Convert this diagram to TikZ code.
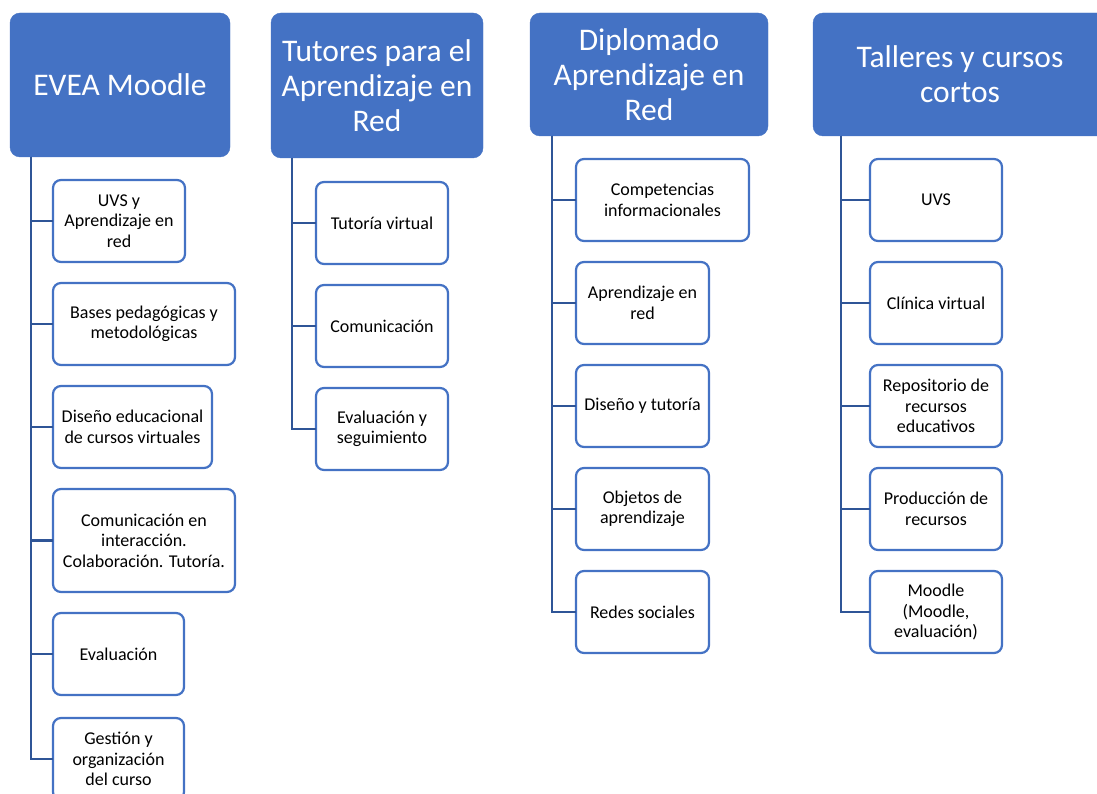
\documentclass[tikz,border=0pt]{standalone}
\usepackage{fontspec}
\setmainfont{Carlito}
\usepackage{tikz}
\usetikzlibrary{positioning}
\definecolor{headblue}{HTML}{4472C4}
\definecolor{linkblue}{HTML}{2F5597}

\tikzset{
  head/.style={anchor=north west, fill=headblue, draw=headblue, rounded corners=10pt,
    inner sep=0pt, outer sep=0pt, align=center, text=white, font=\fontsize{31.5}{35}\selectfont},
  item/.style={draw=headblue, line width=2.2pt, fill=white, rounded corners=8pt,
    inner sep=0pt, outer sep=0pt, minimum width=132pt, minimum height=82pt, align=center,
    text=black, font=\fontsize{18}{20.5}\selectfont},
  link/.style={linkblue, line width=2.6pt}
}

\begin{document}
\begin{tikzpicture}[x=1pt, y=-1pt]
\useasboundingbox (0,0) rectangle (1097,794);
% Headers
\node[head, minimum width=220pt, minimum height=144pt] (hA) at (10,13) {EVEA Moodle};
\node[head, minimum width=212pt, minimum height=145pt] (hB) at (271,13) {Tutores para el\\Aprendizaje en\\Red};
\node[head, minimum width=238pt, minimum height=123pt] (hC) at (530,13) {Diplomado\\Aprendizaje en\\Red};
\node[head, minimum width=294pt, minimum height=123pt] (hD) at (813,13) {Talleres y cursos\\cortos};

% EVEA Moodle
\node[item, anchor=north west] (cA1) at (53,180) {UVS y\\Aprendizaje en\\red};
\node[item, minimum width=182pt, below right=21pt and 0pt of cA1.south west] (cA2) {Bases pedagógicas y\\metodológicas};
\node[item, minimum width=159pt, below right=21pt and 0pt of cA2.south west] (cA3) {Diseño educacional\\de cursos virtuales};
\node[item, minimum width=182pt, minimum height=103pt, below right=21pt and 0pt of cA3.south west] (cA4) {Comunicación en\\interacción.\\Colaboración. Tutoría.};
\node[item, minimum width=131pt, below right=21pt and 0pt of cA4.south west] (cA5) {Evaluación};
\node[item, minimum width=131pt, below right=23pt and 0pt of cA5.south west] (cA6) {Gestión y\\organización\\del curso};

% Tutores
\node[item, anchor=north west] (cB1) at (316,182) {Tutoría virtual};
\node[item, below right=21pt and 0pt of cB1.south west] (cB2) {Comunicación};
\node[item, below right=21pt and 0pt of cB2.south west] (cB3) {Evaluación y\\seguimiento};

% Diplomado
\node[item, minimum width=173pt, anchor=north west] (cC1) at (576,159) {Competencias\\informacionales};
\node[item, minimum width=133pt, below right=21pt and 0pt of cC1.south west] (cC2) {Aprendizaje en\\red};
\node[item, minimum width=133pt, below right=21pt and 0pt of cC2.south west] (cC3) {Diseño y tutoría};
\node[item, minimum width=133pt, below right=21pt and 0pt of cC3.south west] (cC4) {Objetos de\\aprendizaje};
\node[item, minimum width=133pt, below right=21pt and 0pt of cC4.south west] (cC5) {Redes sociales};

% Talleres
\node[item, anchor=north west] (cD1) at (870,159) {UVS};
\node[item, below right=21pt and 0pt of cD1.south west] (cD2) {Clínica virtual};
\node[item, below right=21pt and 0pt of cD2.south west] (cD3) {Repositorio de\\recursos\\educativos};
\node[item, below right=21pt and 0pt of cD3.south west] (cD4) {Producción de\\recursos};
\node[item, below right=21pt and 0pt of cD4.south west] (cD5) {Moodle\\(Moodle,\\evaluación)};

% Links
\foreach \i in {1,...,6}
  \draw[link] ([xshift=21pt]hA.south west) |- (cA\i.west);
\foreach \i in {1,...,3}
  \draw[link] ([xshift=21pt]hB.south west) |- (cB\i.west);
\foreach \i in {1,...,5}{
  \draw[link] ([xshift=22pt]hC.south west) |- (cC\i.west);
  \draw[link] ([xshift=28pt]hD.south west) |- (cD\i.west);
}
\end{tikzpicture}
\end{document}
